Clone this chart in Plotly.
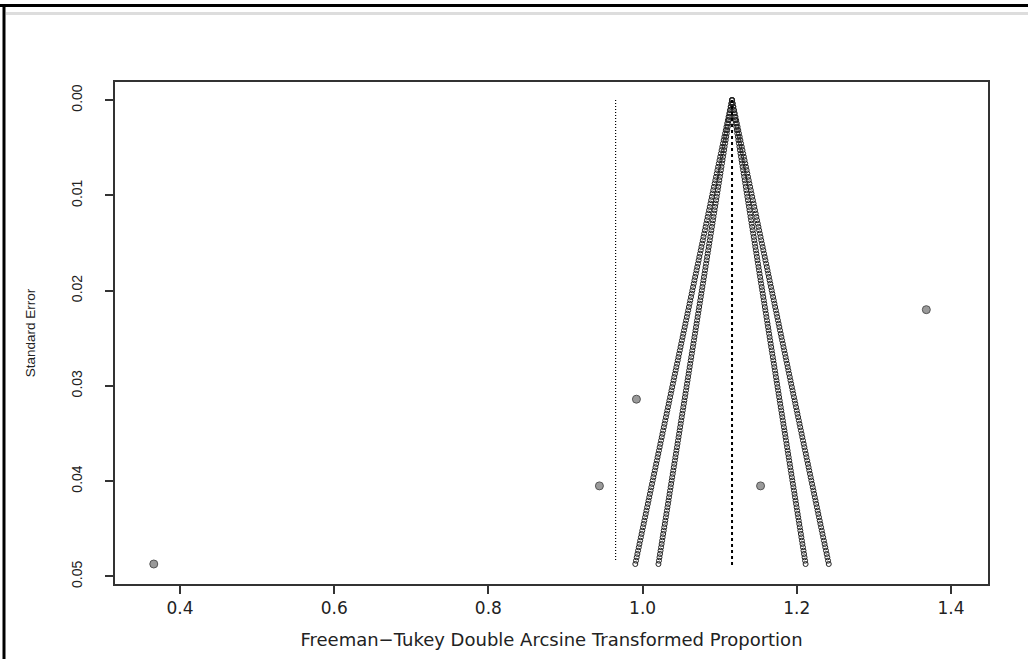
import numpy as np
import plotly.graph_objects as go

# Study estimates (Freeman-Tukey transformed proportions) and standard errors
study_yi = [0.366, 1.368, 0.992, 0.944, 1.153]
study_se = [0.0487, 0.0220, 0.0314, 0.0405, 0.0405]

# Pooled estimate (funnel centre) and reference line
pooled = 1.116
reference = 0.965
se_max = 0.0487
z_levels = [1.96, 2.576]

x_ticks = [0.4, 0.6, 0.8, 1.0, 1.2, 1.4]
y_ticks = [0.00, 0.01, 0.02, 0.03, 0.04, 0.05]

fig = go.Figure()

se_grid = np.linspace(0, se_max, 140)
for z in z_levels:
    for sign in (-1, 1):
        fig.add_trace(go.Scatter(
            x=pooled + sign * z * se_grid, y=se_grid, mode="markers",
            marker=dict(symbol="circle-open", size=5, color="#222",
                        line=dict(width=1, color="#222")),
            hoverinfo="skip", showlegend=False))

# centre dashed line
fig.add_trace(go.Scatter(x=[pooled, pooled], y=[0, se_max + 0.0003], mode="lines",
                         line=dict(color="black", width=2, dash="3px,3px"),
                         showlegend=False, hoverinfo="skip"))
# reference dotted line
fig.add_trace(go.Scatter(x=[reference, reference], y=[0, se_max - 0.0002], mode="lines",
                         line=dict(color="black", width=1.2, dash="1px,2px"),
                         showlegend=False, hoverinfo="skip"))

fig.add_trace(go.Scatter(x=study_yi, y=study_se, mode="markers",
                         marker=dict(size=8, color="#9a9a9a",
                                     line=dict(width=1, color="#555")),
                         showlegend=False))

hfont = dict(family="DejaVu Sans, Liberation Sans, Arial", size=17, color="#222")
vfont = dict(family="Liberation Sans, Arial", size=14, color="#222")

fig.update_xaxes(range=[0.3157, 1.448], tickvals=x_ticks,
                 ticktext=["0.4", "0.6", "0.8", "1.0", "1.2", "1.4"],
                 showgrid=False, zeroline=False, showline=True, mirror=True,
                 linecolor="#333", linewidth=1.5, ticks="outside", ticklen=8,
                 tickcolor="#333", tickwidth=1.5,
                 tickfont=hfont, ticklabelstandoff=0,
                 title=dict(text="Freeman\u2212Tukey Double Arcsine Transformed Proportion",
                            font=dict(family="DejaVu Sans, Liberation Sans, Arial",
                                      size=18, color="#222"),
                            standoff=16))
fig.update_yaxes(range=[0.0508, -0.0019], tickvals=y_ticks,
                 ticktext=["0.00", "0.01", "0.02", "0.03", "0.04", "0.05"],
                 showgrid=False, zeroline=False, showline=True, mirror=True,
                 linecolor="#333", linewidth=1.5, ticks="outside", ticklen=8,
                 tickcolor="#333", tickwidth=1.5, tickangle=-90,
                 ticklabelstandoff=18,
                 tickfont=vfont,
                 title=dict(text="Standard Error",
                            font=dict(family="Liberation Sans, Arial", size=13.5, color="#222"),
                            standoff=30))

fig.update_layout(
    width=1028, height=659,
    margin=dict(l=115, r=40, t=82, b=71),
    plot_bgcolor="white", paper_bgcolor="white",
    shapes=[
        dict(type="line", xref="paper", yref="paper", x0=-0.2, x1=1.2,
             y0=1 + 77/506, y1=1 + 77/506, line=dict(color="black", width=3)),
        dict(type="line", xref="paper", yref="paper", x0=-0.125, x1=1.2,
             y0=1 + 69/506, y1=1 + 69/506, line=dict(color="#dddddd", width=3)),
        dict(type="line", xref="paper", yref="paper", x0=-111/873, x1=-111/873,
             y0=-0.2, y1=1 + 77/506, line=dict(color="black", width=3)),
    ],
)

fig.write_html("out.html", config={"displayModeBar": False},
               post_script="document.body.style.margin='0';")
